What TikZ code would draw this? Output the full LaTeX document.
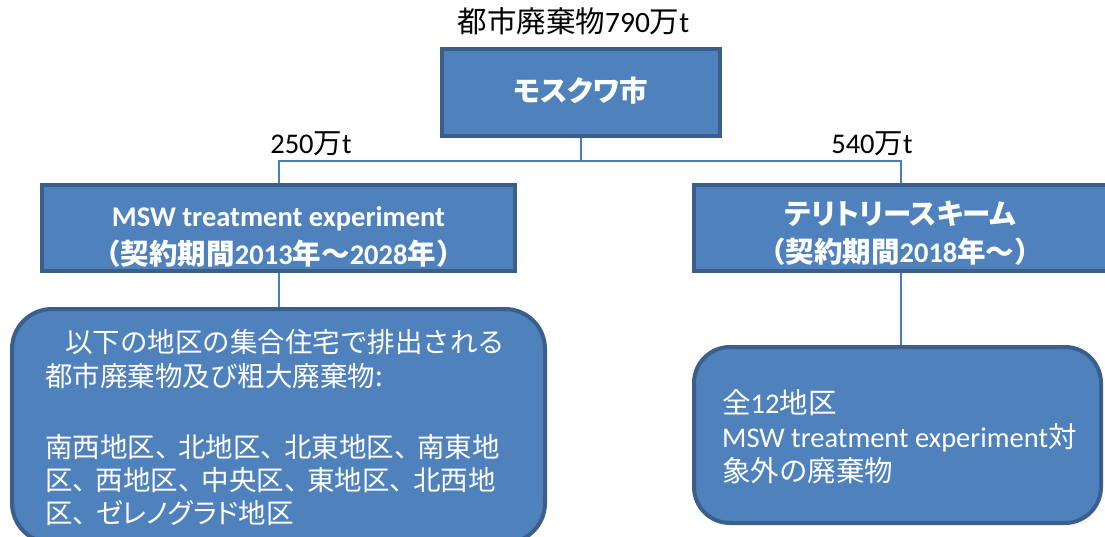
\documentclass[tikz,border=0pt]{standalone}
\usepackage{fontspec}
\usetikzlibrary{backgrounds}
\setmainfont{Carlito}
\newfontfamily\jpf{Noto Sans CJK JP}
\newfontfamily\jpk[RawFeature=+palt]{Noto Sans CJK JP}
\newcommand\JA[1]{{\jpf #1}}
\newcommand\JK[1]{{\jpk #1}}
\newcommand\tc{\JA{、}\kern-4.3pt}
\newcommand\fs[1]{\fontsize{#1}{#1}\selectfont}
\definecolor{boxfill}{HTML}{4F81BD}
\definecolor{boxedge}{HTML}{3A5F8B}
\definecolor{conncol}{HTML}{4A7EBB}
\begin{document}
\begin{tikzpicture}[x=1pt,y=-1pt,
  box/.style={draw=boxedge, fill=boxfill, line width=4pt, inner sep=0pt},
  wtext/.style={text=white, inner sep=0pt, anchor=base},
  wleft/.style={text=white, inner sep=0pt, anchor=base west},
  btext/.style={text=black, inner sep=0pt, anchor=base},
  conn/.style={draw=conncol, line width=2pt}]
\useasboundingbox (0,0) rectangle (1105,536);

% top
\node[btext, font=\fs{29.5}] (total) at (573.5,32) {\JA{都市廃棄物}790\JA{万}t};
\node[box, minimum width=278pt, minimum height=87pt] (msk) at (581,92.5) {};
\node[wtext, font=\bfseries\fs{28.5}] (msktxt) at (581,101) {\JK{モスクワ市}};

% quantity labels
\node[btext, font=\fs{28.5}] (l250) at (311,153) {250\JA{万}t};
\node[btext, font=\fs{28.5}] (l540) at (872,153) {540\JA{万}t};

% headers
\node[box, minimum width=473pt, minimum height=86pt] (lh) at (278.5,228) {};
\node[wtext, font=\bfseries\fs{28.5}] (lh1) at (278.5,226) {MSW treatment experiment};
\node[wtext, font=\bfseries\fs{28.5}] (lh2) at (278.5,264) {\JA{（契約期間}2013\JA{年～}2028\JA{年）}};
\node[box, minimum width=419pt, minimum height=86pt] (rh) at (903.5,228) {};
\node[wtext, font=\bfseries\fs{28.5}] (rh1) at (900,224) {\JK{テリトリースキーム}};
\node[wtext, font=\bfseries\fs{28.5}] (rh2) at (900,262) {\JA{（契約期間}2018\JA{年～）}};

% lower boxes
\node[box, rounded corners=40pt, minimum width=533pt, minimum height=234pt] (lb) at (278.5,426) {};
\node[wleft, font=\fs{27.5}] (lb1) at (65,352.5) {\JA{以下の地区の集合住宅で排出される}};
\node[wleft, font=\fs{27.5}] (lb2) at (45,386.5) {\JA{都市廃棄物及び粗大廃棄物:}};
\node[wleft, font=\fs{27.5}] (lb3) at (45,457.5) {\JA{南西地区}\tc\JA{北地区}\tc\JA{北東地区}\tc\JA{南東地}};
\node[wleft, font=\fs{27.5}] (lb4) at (45,490.5) {\JA{区}\tc\JA{西地区}\tc\JA{中央区}\tc\JA{東地区}\tc\JA{北西地}};
\node[wleft, font=\fs{27.5}] (lb5) at (45,523.5) {\JA{区}\tc\JK{ゼレノグラド}\JA{地区}};

\node[box, rounded corners=36pt, minimum width=407pt, minimum height=176pt] (rb) at (897.5,435) {};
\node[wleft, font=\fs{28.5}] (rb1) at (722,413) {\JA{全}12\JA{地区}};
\node[wleft, font=\fs{28.5}] (rb2) at (722,447) {MSW treatment experiment\JA{対}};
\node[wleft, font=\fs{28.5}] (rb3) at (722,481) {\JA{象外の廃棄物}};

% connectors (behind boxes)
\begin{scope}[on background layer]
\fill[white] (0,0) rectangle (1105,536);
\coordinate (jm) at (581,161);
\coordinate (lj) at (278.5,161);
\coordinate (rj) at (901,161);
\draw[conn] (msk.south) -- (jm);
\draw[conn] (lh.north) -- (lj) -- (rj) -- (rj |- rh.north);
\draw[conn] (lh.south) -- (lb.north);
\draw[conn] (rj |- rh.south) -- (rj |- rb.north);
\end{scope}
\end{tikzpicture}
\end{document}
